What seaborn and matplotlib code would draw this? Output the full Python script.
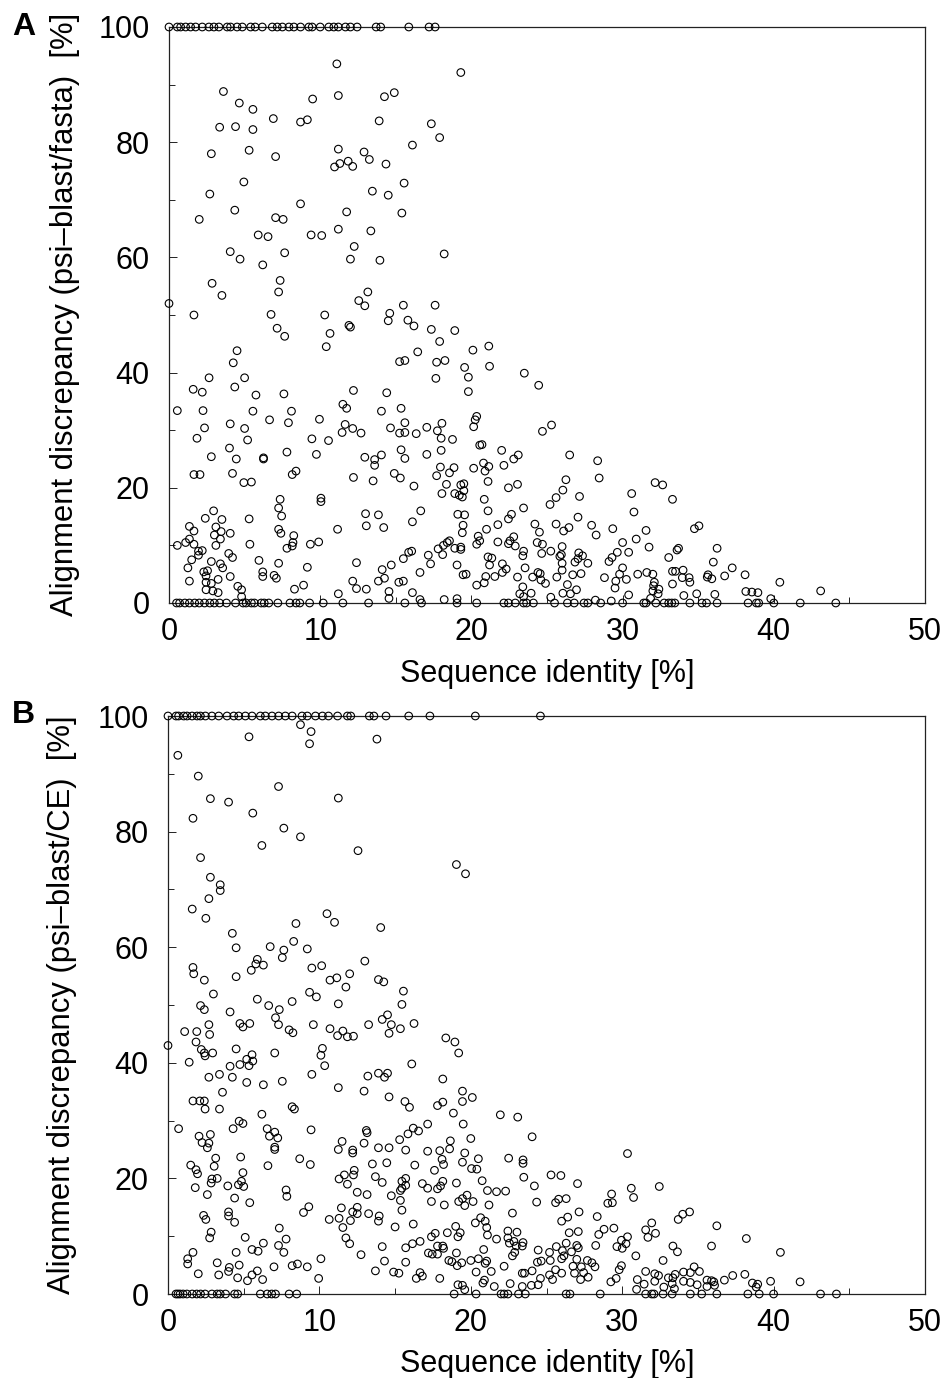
import matplotlib
matplotlib.use("Agg")
import matplotlib.pyplot as plt
import pandas as pd
import seaborn as sns

# panel A, points sitting on the 100 line and on the 0 line
a_top = [0, .55, .77, 1.1, 1.43, 1.76, 2.2, 2.64, 2.97, 3.3, 3.85, 4.07, 4.5, 4.85, 5.4, 5.7, 6.17, 6.83, 7.16, 7.5,
         7.93, 8.26, 8.7, 9.25, 9.47, 10, 10.57, 10.9, 11.2, 11.67, 12, 12.44, 13.7, 14, 15.86, 17.2, 17.6]
a_zero = [.5, .7, 1.05, 1.35, 1.7, 2, 2.35, 2.7, 3, 3.35, 3.8, 4.4, 4.9, 5.1, 5.45, 5.65, 6.1, 6.3, 6.6, 7.2, 8, 8.4,
          8.65, 9.3, 10.2, 11.5, 13.2, 15.6, 16.7, 19.05, 20.35, 22.15, 22.45, 22.9, 23.45, 23.65, 24.1, 25.5, 26.35,
          26.8, 27.45, 27.7, 28.55, 30, 31.4, 31.55, 32.2, 32.75, 33.05, 33.25, 33.45, 34.45, 35.25, 35.55, 36.25,
          38.3, 38.85, 39, 40, 41.75, 44.1]
# panel A, everything else (identity, discrepancy)
a_points = [
    (11.1, 93.6), (19.3, 92.1), (3.6, 88.8), (4.65, 86.8), (5.55, 85.7), (6.9, 84.1), (8.7, 83.5), (9.15, 83.9),
    (9.5, 87.5), (11.2, 88.1), (14.25, 87.9), (14.9, 88.6), (13.9, 83.7), (17.35, 83.2), (17.9, 80.8), (3.35, 82.6),
    (4.4, 82.7), (5.55, 82.2), (2.8, 78), (5.3, 78.6), (7.05, 77.5), (11.2, 78.8), (10.95, 75.7), (11.3, 76.3),
    (11.85, 76.7), (12.15, 75.8), (12.9, 78.3), (13.25, 77), (14.35, 76.2), (16.1, 79.5), (4.95, 73.1), (2.7, 71),
    (13.45, 71.5), (14.5, 70.8), (15.55, 72.9), (8.7, 69.3), (4.35, 68.2), (2, 66.6), (7.05, 66.9), (7.55, 66.6),
    (11.75, 67.9), (15.4, 67.7), (5.9, 63.9), (6.55, 63.6), (9.4, 63.9), (10.1, 63.8), (11.2, 64.9), (13.35, 64.6),
    (4.05, 61), (4.7, 59.7), (6.2, 58.7), (7.65, 60.8), (12.25, 61.9), (12, 59.7), (13.95, 59.5), (18.2, 60.6),
    (2.85, 55.5), (3.5, 53.4), (7.35, 56), (7.25, 54), (13.15, 54), (12.55, 52.5), (12.95, 51.6), (15.5, 51.7),
    (17.6, 51.7), (0, 52), (1.65, 50), (6.75, 50.1), (10.3, 50), (14.6, 50.3), (14.5, 49), (15.8, 49.1), (16.2, 48.1),
    (11.9, 48.2), (12, 47.9), (7.15, 47.7), (7.65, 46.3), (10.65, 46.8), (17.35, 47.5), (18.9, 47.3), (17.9, 45.4),
    (4.5, 43.8), (4.25, 41.7), (10.4, 44.5), (16.45, 43.6), (15.25, 41.9), (15.6, 42.1), (17.7, 41.8), (18.25, 42.1),
    (19.55, 40.9), (17.65, 39), (19.8, 39.2), (19.8, 36.7), (2.65, 39.1), (5, 39.1), (4.35, 37.5), (1.6, 37.1),
    (2.2, 36.6), (5.75, 36.1), (7.6, 36.3), (12.2, 36.9), (14.4, 36.5), (.55, 33.4), (2.25, 33.4), (5.55, 33.3),
    (8.1, 33.3), (11.5, 34.5), (11.75, 33.8), (14.05, 33.3), (15.35, 33.8), (4.05, 31.1), (5, 30.3), (6.65, 31.8),
    (7.9, 31.3), (9.95, 31.9), (11.65, 31), (12.15, 30.3), (12.7, 29.5), (11.45, 29.6), (14.65, 30.4), (15.25, 29.5),
    (15.6, 29.6), (15.6, 31.3), (16.35, 29.4), (17.05, 30.5), (17.75, 29.9), (18.05, 31.2), (18, 28.6), (18.75, 28.4),
    (18, 26.5), (2.35, 30.4), (1.85, 28.6), (5.2, 28.3), (9.45, 28.5), (10.55, 28.2), (4, 26.9), (7.8, 26.2),
    (15.35, 26.6), (9.75, 25.8), (17.05, 25.8), (2.8, 25.4), (4.45, 25), (6.25, 25.2), (6.25, 25), (12.95, 25.3),
    (13.6, 24.9), (13.6, 23.9), (14.05, 25.7), (15.6, 25.1), (17.95, 23.6), (18.85, 23.5), (18.55, 22.6), (17.7, 22.1),
    (4.2, 22.5), (1.65, 22.3), (2.05, 22.3), (8.15, 22.3), (8.4, 22.9), (14.9, 22.5), (15.3, 21.7), (12.2, 21.8),
    (4.95, 20.9), (5.45, 21), (13.5, 21.2), (16.2, 20.3), (18.35, 20.6), (19.5, 20.7), (19.3, 20.5), (19.5, 19.5),
    (18.9, 19), (18.05, 19), (19.2, 18.7), (19.4, 18.4), (7.35, 18), (10.05, 18.2), (10.05, 17.6), (7.25, 16.5),
    (2.95, 16), (16.65, 16), (13, 15.5), (13.85, 15.3), (19.1, 15.4), (19.55, 15.3), (2.4, 14.7), (3.5, 14.5),
    (5.3, 14.6), (7.45, 15.1), (16.1, 14.1), (1.35, 13.3), (1.65, 12.5), (3.1, 13.2), (3.45, 12.4), (3, 11.8),
    (4.05, 12.1), (3.4, 11.1), (7.25, 12.8), (7.4, 12.1), (8.25, 11.7), (11.15, 12.8), (13.05, 13.4), (14.2, 13.1),
    (19.45, 13.5), (19.4, 12.2), (1.35, 11.1), (1.1, 10.5), (.55, 10), (1.65, 10.2), (3.1, 10), (5.35, 10.2),
    (8.2, 10.5), (8.15, 9.9), (7.8, 9.5), (9.35, 10.2), (9.9, 10.6), (18.55, 10.8), (18.4, 10.5), (18.15, 10),
    (17.8, 9.4), (18.9, 9.5), (19.3, 9.7), (19.3, 9.3), (1.95, 9), (1.95, 8.3), (2.2, 9.1), (15.85, 8.8), (16.05, 9),
    (18.1, 8.4), (17.15, 8.3), (3.95, 8.6), (4.2, 7.9), (1.5, 7.5), (15.5, 7.7), (5.95, 7.4), (2.8, 7.2), (3.4, 6.8),
    (3.55, 6.1), (12.4, 7), (7.25, 6.9), (17.3, 6.8), (1.25, 6.1), (9.15, 6.2), (14.7, 6.6), (19.05, 6.6), (14.1, 5.8),
    (2.55, 5.6), (2.3, 5.4), (2.45, 4.7), (6.2, 5.4), (6.2, 4.6), (6.95, 4.8), (7.1, 4.3), (4.05, 4.6), (16.6, 5.3),
    (19.45, 4.9), (19.65, 5), (3.25, 4.1), (1.35, 3.8), (2.45, 3.6), (2.8, 3.4), (12.15, 3.8), (13.85, 3.8),
    (14.25, 4.3), (15.2, 3.6), (15.5, 3.8), (8.9, 3.1), (4.55, 2.9), (2.45, 2.3), (2.9, 2.1), (3.25, 1.8), (4.8, 2.3),
    (8.3, 2.4), (12.4, 2.5), (13.05, 2.4), (14.55, 2), (11.2, 1.6), (16.1, 1.8), (4.8, 1.1), (14.55, .8), (16.6, .6),
    (18.2, .6), (19.05, .75),
    (21.15, 44.6), (20.1, 43.9), (21.2, 41.1), (23.5, 39.9), (24.45, 37.8), (20.35, 32.4), (20.25, 31.8), (20.15, 30.6),
    (25.3, 30.9), (24.7, 29.8), (20.55, 27.4), (20.7, 27.5), (22, 26.5), (22.15, 23.9), (22.8, 25), (23.1, 25.7),
    (26.5, 25.7), (28.35, 24.7), (28.45, 21.7), (20.8, 24.3), (21.15, 23.7), (20.9, 22.9), (20.15, 23.4), (21.1, 21.1),
    (22.45, 20), (23.05, 20.6), (26.25, 21.4), (26.05, 19.6), (25.6, 18.3), (25.2, 17.1), (27.15, 18.5), (32.15, 20.9),
    (32.65, 20.5), (30.6, 19), (33.3, 18), (30.75, 15.8), (20.85, 18), (21.1, 16), (23.45, 16.5), (22.65, 15.4),
    (22.45, 14.6), (27.05, 14.9), (24.2, 13.7), (24.5, 12.3), (25.6, 13.7), (26.1, 12.5), (26.45, 13.1), (21.75, 13.6),
    (21, 12.8), (27.95, 13.5), (28.25, 11.8), (29.35, 12.9), (31.55, 12.6), (34.75, 12.9), (35.05, 13.4), (20.45, 11.6),
    (20.35, 10.2), (20.55, 10.8), (21.75, 10.6), (22.45, 10.3), (22.55, 10.8), (22.8, 11.5), (22.9, 9.9), (24.35, 10.5),
    (24.7, 10.2), (30.9, 11.1), (30, 10.5), (26, 9.8), (31.75, 9.7), (33.7, 9.5), (33.6, 9.2), (36.25, 9.5), (23.45, 9),
    (23.4, 8.2), (24.65, 8.6), (25.25, 9), (25.95, 8.4), (25.85, 8.1), (27.1, 8.7), (27.35, 8.2), (27.05, 7.7),
    (29.65, 8.8), (30.4, 8.8), (29.3, 7.9), (29.1, 7.2), (21.1, 8), (21.35, 7.8), (21.2, 6.6), (33.05, 7.9), (36, 7.1),
    (26.85, 7.1), (26, 6.9), (26, 5.7), (27.7, 6.9), (22.05, 6.8), (22.3, 5.9), (23.55, 6.1), (30, 6.1), (33.3, 5.5),
    (33.5, 5.5), (34, 5.7), (37.25, 6.1), (22.05, 5.3), (24.4, 5.3), (24.55, 5.1), (27.25, 5.1), (26.7, 4.9), (29.8, 5),
    (31, 5), (31.6, 5.3), (32, 5), (35.65, 4.9), (35.6, 4.5), (35.9, 4.2), (36.75, 4.7), (38.1, 4.9), (20.95, 4.6),
    (21.55, 4.6), (23.05, 4.5), (24.05, 4.5), (25.65, 4.5), (28.8, 4.4), (33.95, 4.4), (34.4, 4.4), (30.25, 4.1),
    (24.6, 4), (29.55, 3.8), (32.1, 3.6), (34.45, 3.6), (40.4, 3.6), (20.85, 3.5), (20.35, 3.1), (24.9, 3.4),
    (26.35, 3.2), (33.3, 3.3), (32.05, 3), (23.4, 2.8), (29.5, 2.6), (26.95, 2.3), (32.4, 2.4), (32, 2.1), (43.1, 2.1),
    (38.15, 2), (38.55, 1.9), (38.95, 1.8), (23.95, 1.7), (23.2, 1.6), (26.05, 1.7), (26.55, 1.6), (32.35, 1.6),
    (34.9, 1.6), (36.1, 1.5), (30.4, 1.4), (34.05, 1.3), (23.45, 1.1), (25.25, 1), (31.85, .8), (39.8, .75), (28.2, .5),
    (29.25, .35),
]

# panel B
b_top = [0, .53, .7, 1.04, 1.26, 1.59, 1.92, 2.14, 2.47, 2.9, 3.35, 3.9, 4.34, 4.67, 5.11, 5.55, 6.1, 6.43, 6.87, 7.31,
         7.75, 8.2, 8.85, 9.2, 9.74, 10.2, 10.6, 11.2, 11.85, 12.07, 13.3, 13.6, 14.4, 15.9, 17.3, 20.3, 24.6]
b_zero = [.53, .66, .8, 1, 1.25, 1.6, 1.9, 2.15, 2.45, 2.9, 3.25, 3.45, 3.8, 4.4, 4.6, 6.1, 6.55, 6.85, 7.1, 8, 8.5, 18.9,
          20.35, 22, 22.2, 22.45, 23.15, 23.6, 26.3, 26.55, 28.55, 31.55, 31.95, 32.1, 32.7, 33.3, 34.5, 35.25, 36.25,
          38.3, 39.05, 40, 43.1, 44.15]
b_points = [
    (8.75, 98.5), (9.45, 97.3), (9.35, 95.2), (5.35, 96.4), (13.8, 96), (.65, 93.2), (2, 89.6), (7.3, 87.8), (2.8, 85.7),
    (4, 85.1), (11.25, 85.8), (5.6, 83.2), (1.65, 82.3), (7.65, 80.6), (8.75, 79.1), (6.2, 77.6), (12.55, 76.7),
    (2.15, 75.5), (19.05, 74.3), (19.65, 72.7), (2.8, 72.1), (3.45, 70.8), (3.45, 69.8), (2.7, 68.4), (1.6, 66.6),
    (2.5, 65), (10.5, 65.8), (11, 64.3), (8.45, 64.1), (14.05, 63.4), (4.25, 62.4), (4.5, 59.9), (6.75, 60.1), (8.3, 61),
    (7.65, 59.5), (9.2, 59.7), (7.55, 58.2), (5.9, 57.9), (5.8, 57.1), (6.3, 56.9), (5.5, 56), (4.5, 54.9), (1.65, 56.5),
    (1.7, 55.4), (2.4, 54.3), (9.5, 56.4), (10.15, 56.8), (13, 57.6), (12, 55.4), (10.7, 54.3), (11.15, 54.7),
    (11.75, 53.1), (13.9, 54.4), (14.25, 54), (15.55, 52.4), (3, 51.9), (5.9, 51), (9.35, 52.2), (9.8, 51.4), (6.65, 49.9),
    (8.2, 50.6), (11.25, 50.2), (15.45, 50.1), (2.15, 49.9), (2.4, 49.2), (7.35, 49.2), (4.1, 48.8), (7.1, 47.8),
    (14.5, 48.3), (14.15, 47.5), (4.75, 46.8), (4.95, 46.2), (5.4, 46.8), (7.3, 46.6), (2.7, 46.6), (9.6, 46.6),
    (13.25, 46.6), (14.75, 46.6), (15.35, 45.9), (16.25, 46.8), (1.1, 45.4), (1.9, 45.4), (8, 45.7), (10.7, 45.9),
    (11.55, 45.5), (2.75, 44.9), (14.6, 45.1),
    (0, 43), (8.25, 45.2), (11.2, 44.7), (11.85, 44.5), (12.25, 44.6), (18.35, 44.3), (18.95, 43.6), (19.2, 41.7),
    (1.85, 43.6), (2.2, 42.3), (2.4, 41.7), (2.45, 41.2), (2.95, 41.7), (4.5, 42.4), (7.05, 41.7), (10.2, 42.5),
    (10.1, 41.3), (10.35, 39.5), (5.55, 41.4), (5.2, 40.6), (5.6, 40.3), (4.75, 39.7), (5.35, 39.5), (4.1, 39.4),
    (1.4, 40.1), (16.1, 39.8), (2.7, 37.5), (3.4, 38), (4.25, 37.5), (13.2, 37.7), (13.9, 38.2), (14.3, 37.5), (14.5, 38.2),
    (9.5, 38), (5.2, 36.6), (6.3, 36.2), (7.55, 36.8), (11.25, 35.7), (18.15, 37.2), (3.6, 34.9), (12.95, 35.1),
    (14.6, 34.1), (19.45, 35.1), (19.45, 33.3), (20.1, 34), (1.65, 33.4), (2.1, 33.4), (2.4, 33.4), (2.45, 32), (3.4, 32),
    (8.2, 32.4), (8.35, 32), (6.2, 31.1), (15.65, 33.3), (15.95, 32.3), (17.8, 32.6), (18.15, 33.2), (18.85, 31.3),
    (4.7, 29.9), (4.95, 29.5), (17.15, 29.4), (19.5, 29.4), (.7, 28.6), (4.3, 28.6), (6.55, 28.6), (6.7, 27.3), (7.05, 28),
    (7.25, 27), (9.45, 28.4), (13.1, 28.3), (13.15, 27.9), (16.2, 28.7), (15.85, 27.7), (16.55, 28.2), (2.05, 27.3),
    (2.8, 27.6), (2.25, 26.2), (2.7, 26.1), (2.6, 25.3), (11.5, 26.4), (12.95, 26.1), (15.3, 26.7), (18.65, 26.5), (20, 26.9),
    (7.05, 25.4), (7.05, 25), (11.25, 25), (12.2, 24.9), (12.2, 24.4), (13.9, 25.3), (14.6, 25.3), (15.7, 24.9),
    (17.15, 24.7), (17.95, 24.8), (18.6, 25.1), (19.6, 24.4), (3.15, 23.5), (4.8, 23.7), (8.7, 23.4), (18.1, 23.3),
    (19.45, 22.8), (1.5, 22.3), (3.05, 22.1), (6.6, 22.2), (9.4, 22.4), (13.5, 22.5), (14.45, 22.7), (16.3, 22.3), (18.2, 22.4),
    (1.85, 21.5), (1.95, 20.8), (4.95, 21), (12.3, 21.4), (11.65, 20.6), (12.25, 20.6), (17.6, 21.4), (20.05, 21.7),
    (2.9, 19.9), (3.25, 20), (2.85, 19.2), (11.3, 19.9), (13.7, 20.3), (4.85, 19.5), (4.65, 18.9), (5, 18.6), (3.95, 18.7),
    (11.85, 19), (14.15, 19.3), (15.7, 20), (15.45, 19.5), (15.7, 18.8), (15.45, 18.3), (15.35, 17.9), (16.8, 19.1),
    (17.15, 18.3), (18.15, 19.5), (18, 18.7), (17.8, 18.2), (19.05, 19.2), (1.8, 18.4), (7.8, 18), (2.6, 17.2), (7.85, 16.9),
    (12.5, 17.6), (13.15, 17.2), (14.75, 17), (4.4, 16.6), (19.75, 17.1), (15.35, 16.2), (17.4, 16), (19.2, 16), (19.45, 16.5),
    (5.4, 15.8), (18.25, 15.4), (19.6, 15.3), (20.15, 16), (9.3, 15.1), (11.45, 14.9), (12.5, 15), (15.45, 14.5), (4, 14.2),
    (4, 13.5), (8.95, 14.1), (12.2, 14.2), (12.5, 13.9), (2.35, 13.6), (2.5, 12.9), (4.4, 12.4), (13.25, 13.9), (13.95, 13.5),
    (13.9, 12.6), (10.65, 12.9), (11.3, 13.1), (12.05, 12.7), (16.2, 12.1), (19, 11.7), (15, 11.6), (7.35, 11.4), (11.55, 11.5),
    (2.85, 10.7), (18.45, 10.6), (17.65, 10.5), (19.3, 10.6), (17.4, 9.9), (2.75, 9.7), (5.1, 9.8), (11.75, 9.7), (19.15, 9.9),
    (7.8, 9.5), (12, 8.7), (16.65, 9.1), (16.15, 8.7), (6.3, 8.8), (7.3, 8.4), (15.7, 8), (14.15, 8.2), (17.8, 8.3), (18.15, 8.3),
    (18.2, 7.9), (5.55, 7.7), (5.95, 7.4), (7.65, 7.2), (1.65, 7.2), (4.5, 7.2), (12.75, 6.8), (17.2, 7.1), (17.45, 6.9),
    (17.8, 6.9), (19.05, 7.1), (1.3, 6.1), (10.1, 6.1), (1.3, 5.2), (3.25, 5.4), (4.7, 5), (8.55, 5.2), (8.2, 4.9), (7, 4.7),
    (9.2, 4.7), (14.3, 5.7), (15.7, 5.5), (18.55, 5.8), (18.75, 5.6), (19.4, 5.4), (20, 5.8), (19.1, 4.9), (4.05, 4.6), (4, 3.9),
    (2, 3.5), (3.35, 3.3), (5.9, 4), (5.55, 3.3), (13.7, 4), (14.9, 3.8), (15.25, 3.6), (16.65, 3.7), (16.8, 3.1), (16.4, 2.7),
    (4.6, 2.8), (5.25, 2.3), (6.25, 2.5), (9.95, 2.7), (17.95, 2.7), (19.15, 1.6), (19.45, 1.5), (19.6, .75),
    (21.95, 31), (23.1, 30.6), (24.05, 27.2), (20.5, 23.4), (22.5, 23.5), (23.45, 23.2), (23.45, 22.6), (30.35, 24.3),
    (20.4, 21.6), (25.3, 20.6), (25.95, 20.5), (23.5, 20.2), (20.75, 19.6), (24.2, 18.7), (27.05, 19.1), (30.6, 18.3),
    (32.45, 18.6), (30.75, 16.7), (21.1, 17.9), (21.7, 17.7), (22.3, 17.8), (29.3, 17.3), (24.35, 15.9), (25.6, 15.8),
    (25.8, 16.4), (26.3, 16.5), (29.05, 15.7), (29.35, 15.8), (21.2, 15.4), (22.75, 14), (27.15, 14.2), (20.65, 13.2),
    (20.95, 12.6), (20.3, 12.3), (21.05, 11.5), (26.4, 13.3), (26, 12.6), (28.35, 13.4), (34.45, 14.2), (34, 13.8),
    (33.7, 12.9), (36.25, 11.8), (31.95, 12.3), (29.45, 11.4), (28.8, 11.2), (22.45, 10.9), (23.05, 10.7), (22.45, 9.7),
    (21.1, 10.2), (26.5, 10.6), (27.1, 10.8), (28.45, 10.3), (31.55, 11.1), (32.2, 10.5), (31.7, 9.8), (30.35, 9.9),
    (38.2, 9.6), (21.7, 9.5), (22.55, 8.8), (22.85, 9.1), (23.45, 8.9), (23, 8.3), (23.4, 8.3), (29.95, 9.3), (30.25, 8.7),
    (29.65, 8.2), (30, 7.9), (26.3, 8.8), (27, 8.4), (27.1, 8), (28.25, 8.4), (33.35, 8.3), (33.65, 7.3), (35.9, 8.3),
    (20.85, 7.7), (24.45, 7.6), (25.65, 8.2), (26.05, 7.5), (26.65, 7.3), (25.2, 7.2), (22.9, 7.2), (22.75, 6.6), (26.15, 6.6),
    (26, 6.1), (30.9, 6.6), (40.45, 7.2), (20.5, 6.1), (21.05, 5.7), (20.95, 5.3), (24.4, 5.5), (24.65, 5.7), (25.25, 5.8),
    (27, 6), (27.7, 5.8), (28, 5.4), (32.7, 5.8), (22.2, 4.8), (26.75, 4.8), (27.3, 4.7), (28.2, 4.7), (29.95, 4.9), (29.8, 4.2),
    (34.75, 4.7), (20.35, 3.8), (21.35, 3.9), (23.4, 3.6), (23.55, 3.6), (24.05, 4), (25.6, 4.2), (26, 3.6), (26.85, 3.6),
    (27.45, 3.7), (25.2, 3.3), (31.55, 3.9), (32.15, 3.5), (32.4, 3.2), (33.5, 3.4), (34.05, 3.8), (34.5, 3.7), (35.1, 3.9),
    (38.1, 3.4), (37.3, 3.2), (24.6, 2.7), (25.4, 2.5), (27.25, 2.5), (27.75, 2.9), (20.9, 2.4), (20.8, 1.9), (29.25, 2.1),
    (29.6, 2.7), (31, 2.5), (31.45, 1.7), (32.15, 2.2), (33.05, 2.8), (33.35, 2.8), (33.3, 1.8), (34.05, 2.2), (34.5, 2),
    (34.95, 1.6), (35.6, 2.4), (35.9, 2.3), (36.05, 2.1), (36.1, 1.5), (35.6, 1.3), (36.75, 2.4), (38.6, 1.9), (38.95, 1.7),
    (38.85, 1.2), (39.8, 2.2), (41.75, 2.1), (22.6, 1.8), (21.55, 1.3), (23.4, 1.3), (24, 1.5), (24.45, 1.6), (30.95, .8),
    (32.75, 1.2), (33.45, .9),
]

x_ticks = [0, 10, 20, 30, 40, 50]
y_ticks = [0, 20, 40, 60, 80, 100]

W, H = 946, 1378
sns.set_style("ticks")
plt.rcParams['font.family'] = ['Liberation Sans', 'DejaVu Sans']
plt.rcParams['text.color'] = 'black'
plt.rcParams['axes.labelcolor'] = 'black'
plt.rcParams['xtick.labelcolor'] = 'black'
plt.rcParams['ytick.labelcolor'] = 'black'

fig = plt.figure(figsize=(W / 100, H / 100), dpi=100)


def panel(box, points, top, zero, ylab, letter, letter_y, ylab_x, ylab_y, xlab_top):
    left, right, upper, lower = box
    ax = fig.add_axes([left / W, 1 - lower / H, (right - left) / W, (lower - upper) / H])
    xs = [p[0] for p in points] + top + zero
    ys = [p[1] for p in points] + [100] * len(top) + [0] * len(zero)
    df = pd.DataFrame({'identity': xs, 'discrepancy': ys})
    sns.scatterplot(data=df, x='identity', y='discrepancy', ax=ax, s=30, marker='o', facecolor='none',
                    edgecolor='black', linewidth=0.8, clip_on=False, zorder=3)
    ax.set_xlim(0, 50)
    ax.set_ylim(0, 100)
    ax.set_xticks(x_ticks)
    ax.set_yticks(y_ticks)
    ax.set_xticks([5, 15, 25, 35, 45], minor=True)
    ax.set_yticks([10, 30, 50, 70, 90], minor=True)
    ax.tick_params(which='major', direction='in', length=6, width=0.7, labelsize=22, color='#222222')
    ax.tick_params(which='minor', direction='in', length=4, width=0.7, color='#222222')
    ax.tick_params(axis='y', which='major', pad=14)
    ax.tick_params(axis='x', which='major', pad=10)
    for s in ax.spines.values():
        s.set_linewidth(0.9)
        s.set_color('#222222')
    ax.set_xlabel('Sequence identity [%]', fontsize=22)
    ax.set_ylabel(ylab, fontsize=22.3)
    ax.xaxis.set_label_coords((547 - left) / (right - left), -(xlab_top - lower) / (lower - upper))
    ax.yaxis.set_label_coords((ylab_x - left) / (right - left), (lower - ylab_y) / (lower - upper))
    fig.text(12 / W, 1 - letter_y / H, letter, fontsize=23, fontweight='bold', va='center', ha='left')
    return ax


panel((169, 925, 27, 603), a_points, a_top, a_zero, 'Alignment discrepancy (psi\u2013blast/fasta)  [%]', 'A', 27, 80, 314, 659)
panel((168, 925, 716, 1294), b_points, b_top, b_zero, 'Alignment discrepancy (psi\u2013blast/CE)  [%]', 'B', 715, 77, 1005, 1349)

fig.savefig('out.png', dpi=100)
